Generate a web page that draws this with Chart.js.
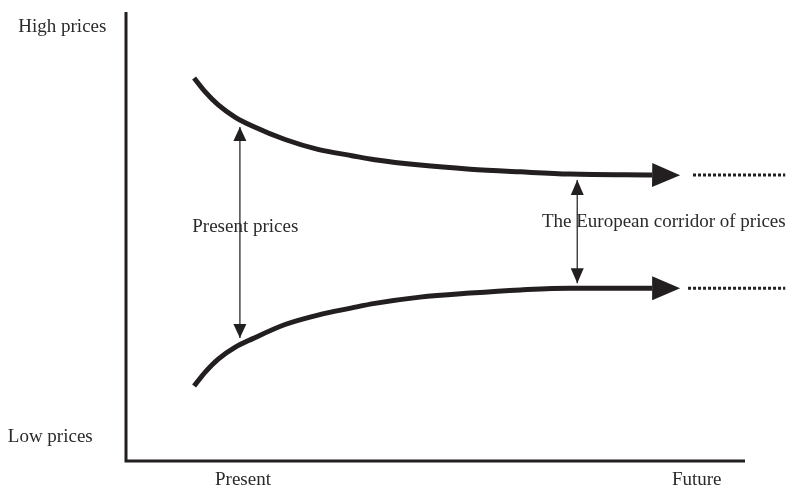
<!DOCTYPE html>
<html>
<head>
<meta charset="utf-8">
<script src="https://cdn.jsdelivr.net/npm/chart.js@4"></script>
<style>
  html, body { margin: 0; padding: 0; background: #fff; }
  canvas { display: block; }
</style>
</head>
<body>
<canvas id="corridor-chart" width="795" height="489"></canvas>
<script>
'use strict';

// time: 0 = present, 100 = future / price: 0 = low, 100 = high
const timeSteps  = [11.0, 12.8, 14.9, 17.6, 20.4, 25.7, 31.0, 36.5, 40.2, 47.5, 55.6, 63.7, 71.7, 85.0];
const highPrices = [85.3, 82.2, 79.3, 76.6, 74.6, 71.6, 69.4, 68.0, 67.1, 65.9, 65.0, 64.4, 63.9, 63.7];
const lowPrices  = [16.7, 19.8, 22.7, 25.3, 27.2, 30.4, 32.5, 34.1, 35.1, 36.5, 37.4, 38.1, 38.5, 38.5];

const highDottedTime  = [91.6, 106.5];
const highDottedPrice = [63.7, 63.7];
const lowDottedTime   = [90.8, 106.5];
const lowDottedPrice  = [38.5, 38.5];

const presentArrowTime   = [18.4, 18.4];
const presentArrowPrice  = [74.4, 27.4];
const corridorArrowTime  = [72.9, 72.9];
const corridorArrowPrice = [62.6, 39.6];

const axisTime  = [0, 0, 100];
const axisPrice = [100, 0, 0];

const priceLabels = ['High prices', 'Low prices'];
const timeLabels  = ['Present', 'Future'];
const noteLabels  = ['Present prices', 'The European corridor of prices'];

const INK = '#231f20';
const THIN = '#3c3c3c';

const pts = (xs, ys) => xs.map((x, i) => ({ x, y: ys[i] }));

// draws filled arrow heads at dataset ends, positioned from the scaled points
const arrowHeads = {
    id: 'arrowHeads',
    afterDatasetsDraw(chart) {
        const ctx = chart.ctx;
        chart.data.datasets.forEach((ds, i) => {
            if (!ds.heads) return;
            const meta = chart.getDatasetMeta(i).data;
            ds.heads.forEach(h => {
                const atEnd = h.at === 'end';
                const p = atEnd ? meta[meta.length - 1] : meta[0];
                const q = atEnd ? meta[meta.length - 2] : meta[1];
                let dx = p.x - q.x, dy = p.y - q.y;
                const d = Math.hypot(dx, dy) || 1;
                dx /= d; dy /= d;
                const tipX = h.beyond ? p.x + dx * h.length : p.x;
                const tipY = h.beyond ? p.y + dy * h.length : p.y;
                const bx = tipX - dx * h.length, by = tipY - dy * h.length;
                ctx.save();
                ctx.fillStyle = h.color;
                ctx.beginPath();
                ctx.moveTo(tipX, tipY);
                ctx.lineTo(bx - dy * h.half, by + dx * h.half);
                ctx.lineTo(bx + dy * h.half, by - dx * h.half);
                ctx.closePath();
                ctx.fill();
                ctx.restore();
            });
        });
    }
};

// free text placed in data coordinates
const textLabels = {
    id: 'textLabels',
    afterDraw(chart, args, opts) {
        const ctx = chart.ctx;
        const xs = chart.scales.x, ys = chart.scales.y;
        ctx.save();
        ctx.font = opts.font;
        ctx.fillStyle = opts.color;
        ctx.textBaseline = 'middle';
        opts.items.forEach(it => {
            ctx.textAlign = it.align;
            ctx.fillText(it.text, xs.getPixelForValue(it.x), ys.getPixelForValue(it.y));
        });
        ctx.restore();
    }
};

const curveStyle = {
    borderColor: INK,
    borderWidth: 5,
    pointRadius: 0,
    cubicInterpolationMode: 'monotone',
    borderCapStyle: 'butt',
    clip: false
};

const dottedStyle = {
    borderColor: INK,
    borderWidth: 3,
    borderDash: [3, 2],
    pointRadius: 0,
    clip: false
};

const thinStyle = {
    borderColor: THIN,
    borderWidth: 1.4,
    pointRadius: 0,
    clip: false
};

new Chart(document.getElementById('corridor-chart').getContext('2d'), {
    type: 'line',
    data: {
        datasets: [
            { data: pts(axisTime, axisPrice), borderColor: INK, borderWidth: 3, pointRadius: 0,
              borderJoinStyle: 'miter', clip: false },
            { ...curveStyle, data: pts(timeSteps, highPrices),
              heads: [{ at: 'end', beyond: true, length: 28, half: 12, color: INK }] },
            { ...curveStyle, data: pts(timeSteps, lowPrices),
              heads: [{ at: 'end', beyond: true, length: 28, half: 12, color: INK }] },
            { ...dottedStyle, data: pts(highDottedTime, highDottedPrice) },
            { ...dottedStyle, data: pts(lowDottedTime, lowDottedPrice) },
            { ...thinStyle, data: pts(presentArrowTime, presentArrowPrice),
              heads: [{ at: 'start', length: 14, half: 6.5, color: INK },
                      { at: 'end', length: 14, half: 6.5, color: INK }] },
            { ...thinStyle, data: pts(corridorArrowTime, corridorArrowPrice),
              heads: [{ at: 'start', length: 15, half: 6.5, color: INK },
                      { at: 'end', length: 15, half: 6.5, color: INK }] }
        ]
    },
    options: {
        responsive: false,
        animation: false,
        events: [],
        layout: { padding: { left: 126, right: 50, top: 12, bottom: 28 } },
        scales: {
            x: { type: 'linear', min: 0, max: 100, display: false },
            y: { type: 'linear', min: 0, max: 100, display: false }
        },
        plugins: {
            legend: { display: false },
            tooltip: { enabled: false },
            textLabels: {
                font: '19px "Liberation Serif", "Times New Roman", serif',
                color: '#2a2a2a',
                items: [
                    { text: priceLabels[0], x: -17.4, y: 96.7, align: 'left' },
                    { text: priceLabels[1], x: -19.1, y: 5.4, align: 'left' },
                    { text: timeLabels[0], x: 18.9, y: -4.2, align: 'center' },
                    { text: timeLabels[1], x: 92.2, y: -4.2, align: 'center' },
                    { text: noteLabels[0], x: 10.7, y: 52.2, align: 'left' },
                    { text: noteLabels[1], x: 67.2, y: 53.2, align: 'left' }
                ]
            }
        }
    },
    plugins: [arrowHeads, textLabels]
});
</script>
</body>
</html>
